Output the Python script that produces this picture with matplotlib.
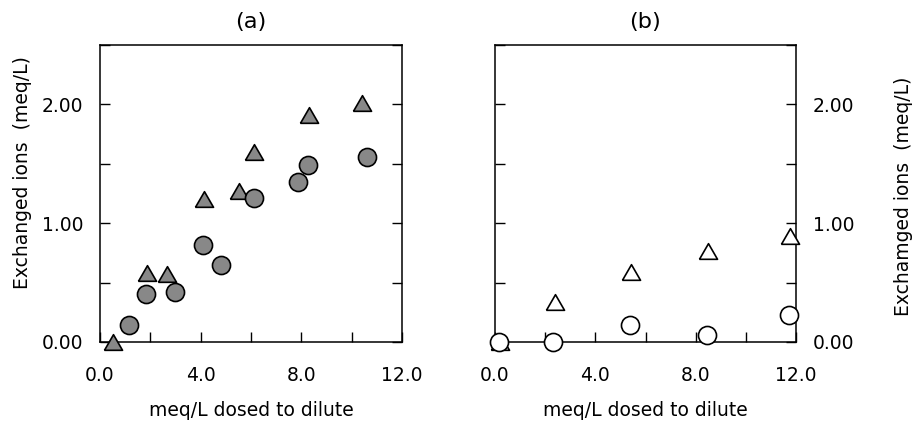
import matplotlib
matplotlib.use("Agg")
import matplotlib.pyplot as plt
import numpy as np

plt.rcParams['font.family'] = ['DejaVu Sans']
plt.rcParams['font.size'] = 13.5

# ------- data -------
# panel (a), grey markers
a_tri_x = [0.53, 1.87, 2.67, 4.13, 5.53, 6.13, 8.29, 10.43]
a_tri_y = [0.00, 0.585, 0.57, 1.20, 1.27, 1.60, 1.91, 2.01]
a_cir_x = [1.17, 1.84, 2.97, 4.11, 4.80, 6.11, 7.87, 8.27, 10.60]
a_cir_y = [0.143, 0.40, 0.42, 0.82, 0.65, 1.21, 1.35, 1.49, 1.555]

# panel (b), open markers
b_tri_x = [0.20, 2.41, 5.43, 8.49, 11.77]
b_tri_y = [0.00, 0.34, 0.59, 0.77, 0.89]
b_cir_x = [0.15, 2.33, 5.37, 8.47, 11.73]
b_cir_y = [0.00, 0.00, 0.143, 0.06, 0.23]

x_ticks = [0, 2, 4, 6, 8, 10, 12]
x_labels = ['0.0', '', '4.0', '', '8.0', '', '12.0']
y_ticks = [0, 0.5, 1.0, 1.5, 2.0, 2.5]
y_labels = ['0.00', '', '1.00', '', '2.00', '']

# equilateral-ish triangle
tri = [(-1, -0.866), (1, -0.866), (0, 0.866), (-1, -0.866)]

fig = plt.figure(figsize=(9.13, 4.25), dpi=100)
ax1 = fig.add_axes([0.1095, 0.1953, 0.3308, 0.6987])
ax2 = fig.add_axes([0.5422, 0.1953, 0.3297, 0.6987])


def style(ax):
    ax.set_xlim(0, 12)
    ax.set_ylim(0, 2.5)
    ax.set_xticks(x_ticks)
    ax.set_xticklabels(x_labels)
    ax.set_yticks(y_ticks)
    ax.set_yticklabels(y_labels)
    ax.tick_params(direction='in', length=7, width=1, top=False,
                   left=True, right=True, pad=12)
    ax.tick_params(axis='x', pad=17)
    for s in ax.spines.values():
        s.set_linewidth(1.1)
    ax.set_xlabel('meq/L dosed to dilute', labelpad=12)


style(ax1)
ax1.plot(a_tri_x, a_tri_y, ls='none', marker=tri, ms=13, mfc='#888888',
         mec='black', mew=1.2, clip_on=False, zorder=3)
ax1.plot(a_cir_x, a_cir_y, ls='none', marker='o', ms=13, mfc='#888888',
         mec='black', mew=1.2, clip_on=False, zorder=4)
ax1.set_ylabel('Exchanged ions  (meq/L)', labelpad=7, y=0.57)
ax1.set_title('(a)', pad=12)

style(ax2)
ax2.plot(b_tri_x, b_tri_y, ls='none', marker=tri, ms=13, mfc='white',
         mec='black', mew=1.2, clip_on=False, zorder=3)
ax2.plot(b_cir_x, b_cir_y, ls='none', marker='o', ms=13, mfc='white',
         mec='black', mew=1.2, clip_on=False, zorder=4)
ax2.yaxis.tick_right()
ax2.tick_params(left=True, right=True, labelleft=False, labelright=True)
ax2.yaxis.set_label_position('right')
ax2.set_ylabel('Exchamged ions  (meq/L)', labelpad=29, y=0.49)
ax2.set_title('(b)', pad=12)

fig.savefig('out.png', dpi=100)
